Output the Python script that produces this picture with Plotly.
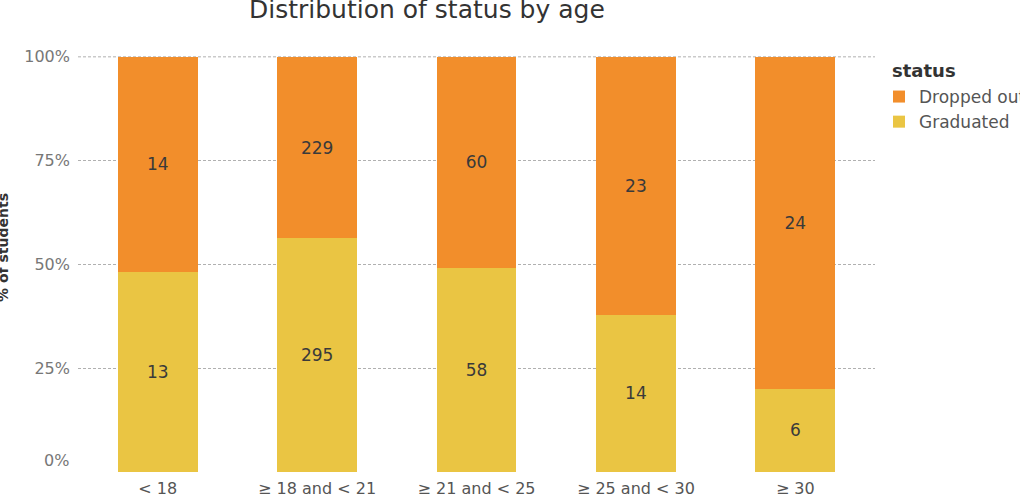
import plotly.graph_objects as go

categories = ["< 18", "≥ 18 and < 21", "≥ 21 and < 25", "≥ 25 and < 30", "≥ 30"]
graduated = [13, 295, 58, 14, 6]
dropped_out = [14, 229, 60, 23, 24]
y_ticks = [0, 0.25, 0.5, 0.75, 1.0]
y_tick_labels = ["0%", "25%", "50%", "75%", "100%"]

totals = [g + d for g, d in zip(graduated, dropped_out)]
grad_pct = [g / t for g, t in zip(graduated, totals)]
drop_pct = [d / t for d, t in zip(dropped_out, totals)]

FONT = "DejaVu Sans"
L, R, T, B = 78, 145, 56, 26
PLOT_W = 1020 - L - R
PLOT_H = 498 - T - B


def px_to_paper_x(px):
    return (px - L) / PLOT_W


def px_to_paper_y(py):
    return (498 - B - py) / PLOT_H


fig = go.Figure()
fig.add_trace(go.Bar(
    x=categories, y=grad_pct, name="Graduated",
    marker=dict(color="#EAC543", line=dict(width=0)),
    text=[str(v) for v in graduated], textposition="inside",
    insidetextanchor="middle", textangle=0, constraintext="none",
    textfont=dict(family=FONT, size=17, color="#3a3a3a"),
))
fig.add_trace(go.Bar(
    x=categories, y=drop_pct, name="Dropped out",
    marker=dict(color="#F28E2B", line=dict(width=0)),
    text=[str(v) for v in dropped_out], textposition="inside",
    insidetextanchor="middle", textangle=0, constraintext="none",
    textfont=dict(family=FONT, size=17, color="#3a3a3a"),
))

annotations = [
    dict(text="Distribution of status by age", xref="paper", yref="paper",
         x=px_to_paper_x(426.5), y=px_to_paper_y(26), xanchor="center", yanchor="bottom",
         showarrow=False, font=dict(family=FONT, size=25, color="#333")),
    dict(text="<b>% of students</b>", xref="paper", yref="paper",
         x=px_to_paper_x(3), y=px_to_paper_y(248), xanchor="center", yanchor="middle",
         showarrow=False, textangle=-90, font=dict(family=FONT, size=14, color="#333")),
    dict(text="<b>status</b>", xref="paper", yref="paper",
         x=px_to_paper_x(890), y=px_to_paper_y(70), xanchor="left", yanchor="middle",
         showarrow=False, font=dict(family=FONT, size=18, color="#333")),
    # bottom tick label sits above the baseline, as in the reference
    dict(text=y_tick_labels[0], xref="paper", yref="y",
         x=px_to_paper_x(71), y=y_ticks[0], xanchor="right", yanchor="bottom",
         showarrow=False, font=dict(family=FONT, size=16, color="#777")),
]

# top (100%) gridline, which plotly omits at the edge of the plotting area
shapes = [
    dict(type="line", xref="paper", x0=0, x1=1, yref="y", y0=y_ticks[-1], y1=y_ticks[-1],
         line=dict(color="#b0b0b0", width=1, dash="3px,2px"), layer="below"),
]

fig.update_layout(
    width=1020, height=498,
    margin=dict(l=L, r=R, t=T, b=B, autoexpand=False),
    paper_bgcolor="white", plot_bgcolor="white",
    barmode="stack", bargap=0.5,
    font=dict(family=FONT, color="#666"),
    showlegend=True,
    legend=dict(
        traceorder="reversed", x=px_to_paper_x(879), xanchor="left",
        y=px_to_paper_y(79), yanchor="top",
        font=dict(family=FONT, size=17, color="#555"),
        itemsizing="constant", tracegroupgap=0, bgcolor="rgba(0,0,0,0)",
    ),
    xaxis=dict(
        showgrid=False, zeroline=False, showline=False, ticks="", automargin=False,
        tickfont=dict(family=FONT, size=16, color="#555"),
        ticklabelstandoff=5,
    ),
    yaxis=dict(
        range=[0, 1.002], tickvals=y_ticks[1:], ticktext=y_tick_labels[1:],
        showgrid=True, gridcolor="#b0b0b0", gridwidth=1, griddash="3px,2px",
        zeroline=False, showline=False, ticks="", automargin=False,
        tickfont=dict(family=FONT, size=16, color="#777"),
        ticklabelstandoff=7,
    ),
    annotations=annotations,
    shapes=shapes,
)

fig.write_html("out.html")
